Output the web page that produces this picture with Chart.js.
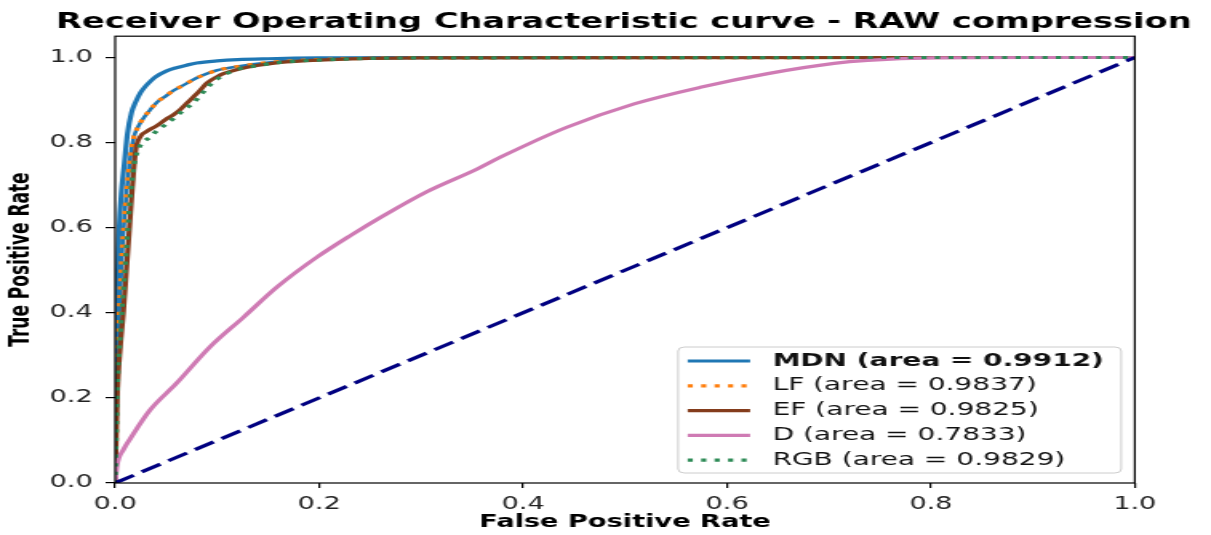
<!DOCTYPE html>
<html>
<head>
<meta charset="utf-8">
<title>ROC curve - RAW compression</title>
<script src="https://cdn.jsdelivr.net/npm/chart.js@4.4.1/dist/chart.umd.min.js"></script>
<style>
  html, body { margin: 0; padding: 0; background: #fff; overflow: hidden; }
  /* the reference figure is stretched sideways, so the whole chart is too */
  #wrap { width: 757px; height: 535px; transform: scaleX(1.5997); transform-origin: 0 0; }
</style>
</head>
<body>
<div id="wrap"><canvas id="rocChart" width="757" height="535"></canvas></div>
<script>
const chartTitle = "Receiver Operating Characteristic curve - RAW compression";
const xTicks = [0, 0.2, 0.4, 0.6, 0.8, 1.0];
const yTicks = [0, 0.2, 0.4, 0.6, 0.8, 1.0];

const seriesLabels = [
  "MDN (area = 0.9912)",
  "LF (area = 0.9837)",
  "EF (area = 0.9825)",
  "D (area = 0.7833)",
  "RGB (area = 0.9829)",
];

// values
const mdnFpr = [0, 0.001, 0.002, 0.004, 0.006, 0.009, 0.012, 0.016, 0.02, 0.025, 0.03, 0.035, 0.04, 0.05, 0.06, 0.07, 0.08, 0.1, 0.12, 0.15, 0.2, 0.3, 0.5, 0.7, 1.0];
const mdnTpr = [0, 0.3, 0.45, 0.6, 0.68, 0.75, 0.82, 0.87, 0.895, 0.918, 0.933, 0.945, 0.955, 0.968, 0.976, 0.982, 0.987, 0.992, 0.995, 0.997, 0.999, 1, 1, 1, 1];

const lfFpr = [0, 0.002, 0.004, 0.007, 0.01, 0.014, 0.018, 0.022, 0.027, 0.034, 0.041, 0.05, 0.057, 0.067, 0.08, 0.09, 0.1, 0.123, 0.15, 0.2, 0.3, 1.0];
const lfTpr = [0, 0.25, 0.4, 0.55, 0.65, 0.75, 0.81, 0.835, 0.855, 0.876, 0.895, 0.91, 0.922, 0.935, 0.952, 0.962, 0.97, 0.98, 0.988, 0.995, 0.999, 1];

const efFpr = [0, 0.002, 0.005, 0.008, 0.011, 0.014, 0.017, 0.02, 0.025, 0.03, 0.041, 0.05, 0.057, 0.064, 0.07, 0.077, 0.083, 0.09, 0.1, 0.106, 0.12, 0.139, 0.16, 0.2, 0.3, 1.0];
const efTpr = [0, 0.2, 0.32, 0.4, 0.5, 0.6, 0.7, 0.78, 0.815, 0.825, 0.84, 0.855, 0.865, 0.878, 0.892, 0.908, 0.922, 0.94, 0.955, 0.962, 0.972, 0.981, 0.988, 0.994, 0.999, 1];

const dFpr = [0, 0.0017, 0.008, 0.015, 0.034, 0.06, 0.093, 0.126, 0.159, 0.198, 0.231, 0.263, 0.306, 0.355, 0.378, 0.443, 0.509, 0.574, 0.64, 0.705, 0.738, 0.803, 0.9, 1.0];
const dTpr = [0, 0.04, 0.078, 0.105, 0.171, 0.234, 0.32, 0.39, 0.461, 0.531, 0.582, 0.628, 0.685, 0.738, 0.766, 0.836, 0.891, 0.93, 0.962, 0.986, 0.993, 0.999, 1, 1];

const rgbFpr = [0, 0.002, 0.005, 0.008, 0.011, 0.014, 0.018, 0.022, 0.027, 0.034, 0.041, 0.051, 0.06, 0.068, 0.077, 0.085, 0.095, 0.106, 0.12, 0.14, 0.16, 0.2, 0.3, 1.0];
const rgbTpr = [0, 0.22, 0.35, 0.45, 0.55, 0.65, 0.74, 0.78, 0.8, 0.812, 0.828, 0.845, 0.862, 0.878, 0.894, 0.915, 0.94, 0.958, 0.972, 0.981, 0.988, 0.994, 0.999, 1];

const chanceFpr = [0, 1];
const chanceTpr = [0, 1];

function points(xs, ys) {
  return xs.map((x, i) => ({ x: x, y: ys[i] }));
}

Chart.defaults.font.family = "'DejaVu Sans', sans-serif";
Chart.defaults.color = "#111";

// top and right spines
const frame = {
  id: "frame",
  afterDatasetsDraw(chart) {
    const { ctx, chartArea: a } = chart;
    ctx.save();
    ctx.strokeStyle = "#000";
    ctx.lineWidth = 1.2;
    ctx.strokeRect(a.left, a.top, a.right - a.left, a.bottom - a.top);
    ctx.restore();
  },
};

// matplotlib style legend box in the lower right corner
const rocLegend = {
  id: "rocLegend",
  afterDraw(chart) {
    const { ctx, chartArea: a } = chart;
    const items = chart.data.datasets.filter((d) => d.label);
    const w = 277, h = 126;
    const x0 = a.right - 8.5 - w;
    const y0 = a.bottom - 10 - h;
    ctx.save();
    ctx.beginPath();
    ctx.roundRect(x0, y0, w, h, 4);
    ctx.fillStyle = "rgba(255,255,255,0.8)";
    ctx.fill();
    ctx.strokeStyle = "#cccccc";
    ctx.lineWidth = 1;
    ctx.stroke();
    items.forEach((ds, i) => {
      const y = y0 + 14 + i * 24.8;
      ctx.beginPath();
      ctx.setLineDash(ds.borderDash || []);
      ctx.strokeStyle = ds.borderColor;
      ctx.lineWidth = ds.borderWidth;
      ctx.moveTo(x0 + 6, y);
      ctx.lineTo(x0 + 45, y);
      ctx.stroke();
      ctx.setLineDash([]);
      ctx.fillStyle = "#111";
      ctx.textBaseline = "middle";
      ctx.textAlign = "left";
      ctx.font = (i === 0 ? "bold " : "") + "17.5px 'DejaVu Sans', sans-serif";
      ctx.fillText(ds.label, x0 + 59, y);
    });
    ctx.restore();
  },
};

const curve = {
  pointRadius: 0,
  borderWidth: 3.2,
  fill: false,
  cubicInterpolationMode: "monotone",
};

const ctx = document.getElementById("rocChart").getContext("2d");
const rocChart = new Chart(ctx, {
  type: "line",
  data: {
    datasets: [
      { ...curve, label: seriesLabels[0], data: points(mdnFpr, mdnTpr), borderColor: "#1f77b4", order: 6 },
      { ...curve, label: seriesLabels[1], data: points(lfFpr, lfTpr), borderColor: "#ff7f0e", borderDash: [3.2, 5.2], order: 4 },
      { ...curve, label: seriesLabels[2], data: points(efFpr, efTpr), borderColor: "#843c1c", order: 3 },
      { ...curve, label: seriesLabels[3], data: points(dFpr, dTpr), borderColor: "#cf7bb4", order: 2 },
      { ...curve, label: seriesLabels[4], data: points(rgbFpr, rgbTpr), borderColor: "#2e8b57", borderDash: [3.2, 5.2], order: 1 },
      // blue line showing through the gaps of the LF dots
      { ...curve, data: points(lfFpr, lfTpr), borderColor: "#1f77b4", borderWidth: 2.6, order: 5 },
      { pointRadius: 0, borderWidth: 3.2, fill: false, data: points(chanceFpr, chanceTpr), borderColor: "#000080", borderDash: [14, 6], order: 0 },
    ],
  },
  options: {
    responsive: false,
    animation: false,
    devicePixelRatio: 1,
    layout: { padding: { left: 23, right: 0, top: 0, bottom: 0 } },
    plugins: {
      legend: { display: false },
      tooltip: { enabled: false },
      title: {
        display: true,
        text: chartTitle,
        color: "#000",
        font: { size: 21, weight: "bold" },
        padding: { top: 10, bottom: 1 },
      },
    },
    scales: {
      x: {
        type: "linear",
        min: 0,
        max: 1,
        afterBuildTicks: (s) => { s.ticks = xTicks.map((v) => ({ value: v })); },
        afterFit: (s) => { s.height = 52; },
        ticks: { font: { size: 17 }, padding: 6, autoSkip: false, maxRotation: 0, color: "#222", callback: (v) => v.toFixed(1) },
        grid: { drawOnChartArea: false, drawTicks: true, tickLength: 5, color: "#000", lineWidth: 1.2 },
        border: { display: false },
        title: { display: true, text: "False Positive Rate", color: "#000", font: { size: 17, weight: "bold" }, padding: { top: 0, bottom: 2 } },
      },
      y: {
        type: "linear",
        min: 0,
        max: 1.05,
        afterBuildTicks: (s) => { s.ticks = yTicks.map((v) => ({ value: v })); },
        afterFit: (s) => { s.width = 49; },
        ticks: { font: { size: 17 }, padding: 8, autoSkip: false, color: "#222", callback: (v) => v.toFixed(1) },
        grid: { drawOnChartArea: false, drawTicks: true, tickLength: 6, color: "#000", lineWidth: 1.2 },
        border: { display: false },
        title: { display: true, text: "True Positive Rate", color: "#000", font: { size: 17, weight: "bold" }, padding: { top: -19.5, bottom: 0 } },
      },
      // empty right-hand axis, only keeps room on the right like the reference
      yPad: {
        type: "linear",
        position: "right",
        display: true,
        grid: { display: false },
        border: { display: false },
        ticks: { display: false },
        afterFit: (s) => { s.width = 47.6; },
      },
    },
  },
  plugins: [frame, rocLegend],
});
</script>
</body>
</html>
